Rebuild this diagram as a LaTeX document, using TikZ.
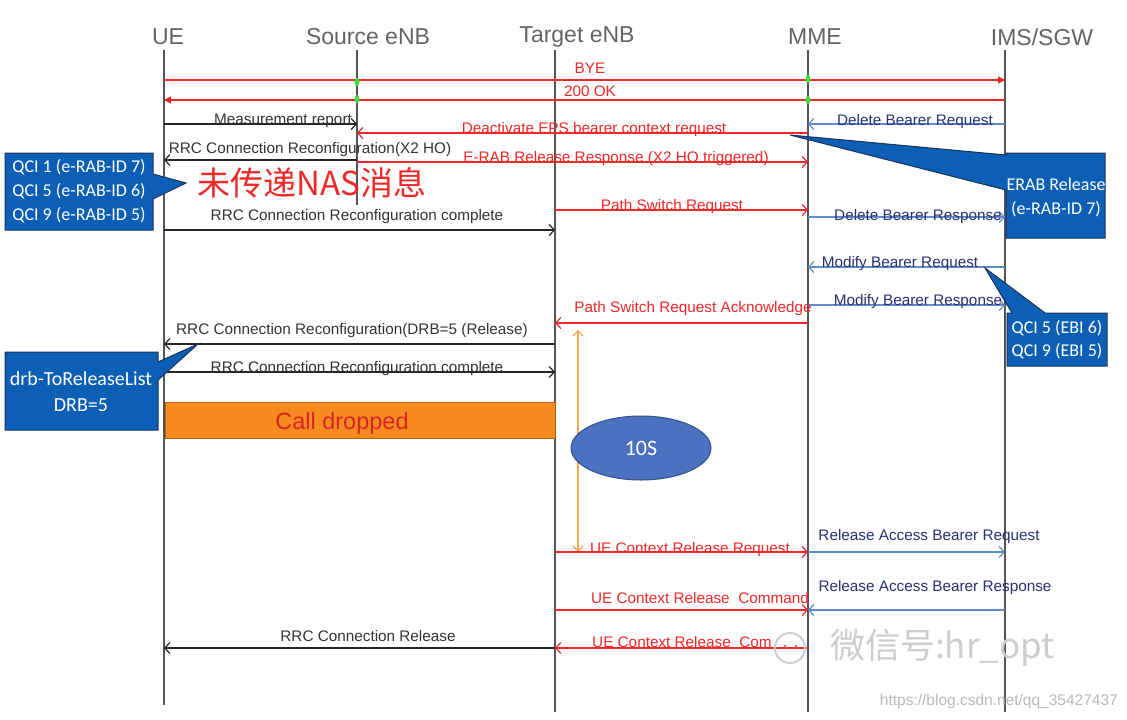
\documentclass[tikz,border=0pt]{standalone}
\usepackage{fontspec}
\setmainfont{Liberation Sans}
\newfontfamily\boxfont{Carlito}
\newfontfamily\cjk{Noto Sans CJK SC}
\usetikzlibrary{arrows.meta,shapes.geometric}
\definecolor{msgred}{RGB}{240,40,40}
\definecolor{lblue}{RGB}{95,140,205}
\definecolor{navy}{RGB}{40,50,115}
\definecolor{boxblue}{RGB}{12,95,180}
\definecolor{boxedge}{RGB}{25,50,90}
\definecolor{life}{RGB}{85,85,85}
\definecolor{hdrgray}{RGB}{100,100,100}
\definecolor{orangebar}{RGB}{246,139,31}
\definecolor{orangeline}{RGB}{245,170,80}
\definecolor{ellblue}{RGB}{74,114,192}
\definecolor{wm}{RGB}{205,205,205}
\definecolor{dotgreen}{RGB}{60,220,60}
\begin{document}
\begin{tikzpicture}[x=1pt,y=-1pt,
  lifeline/.style={draw=life,line width=1.4pt},
  hdr/.style={text=hdrgray,font=\fontsize{23}{23}\selectfont,inner sep=0pt},
  barb/.style={-{Straight Barb[length=5pt,width=11pt,line width=1.2pt]}},
  redmsg/.style={draw=msgred,line width=1.6pt,barb},
  blkmsg/.style={draw=black!85,line width=1.2pt,barb},
  bluemsg/.style={draw=lblue,line width=1.3pt,barb},
  trimsg/.style={draw=msgred,line width=1.6pt,-{Triangle[length=7pt,width=7pt]}},
  lbl/.style={font=\fontsize{15.3}{15.3}\selectfont,inner sep=0pt},
  redlbl/.style={lbl,text=msgred},
  blklbl/.style={lbl,text=black!80},
  bluelbl/.style={lbl,text=navy},
  callout/.style={fill=boxblue,draw=boxedge,line width=1pt},
  calltext/.style={text=white,align=center,inner sep=0pt},
  greendot/.style={fill=dotgreen}
]
\useasboundingbox (0,0) rectangle (1127,720);
\fill[white] (0,0) rectangle (1127,720);

% lifelines
\coordinate (ueT) at (164,50);  \coordinate (ueB) at (164,705);
\coordinate (srcT) at (357,50); \coordinate (srcB) at (357,205);
\coordinate (tgtT) at (555,50); \coordinate (tgtB) at (555,712);
\coordinate (mmeT) at (808,50); \coordinate (mmeB) at (808,712);
\coordinate (imsT) at (1005,50); \coordinate (imsB) at (1005,712);
\draw[lifeline] (ueT) -- (ueB);
\draw[lifeline] (srcT) -- (srcB);
\draw[lifeline] (tgtT) -- (tgtB);
\draw[lifeline] (mmeT) -- (mmeB);
\draw[lifeline] (imsT) -- (imsB);

\node[hdr] (hUE) at (168,37) {UE};
\node[hdr] (hSRC) at (368,37) {Source eNB};
\node[hdr] (hTGT) at (577,37) {Target eNB};
\node[hdr] (hMME) at (815,37) {MME};
\node[hdr] (hIMS) at (1042,37) {IMS/SGW};

% BYE / 200 OK
\draw[trimsg] (ueT |- 0,80) -- (imsT |- 0,80);
\node[redlbl] (lBYE) at (590,68) {BYE};
\draw[trimsg] (imsT |- 0,100) -- (ueT |- 0,100);
\node[redlbl] (l200) at (590,91) {200 OK};
\fill[greendot] (srcT |- 0,82) ellipse (2.5 and 4);
\fill[greendot] (srcT |- 0,99) ellipse (2.5 and 4);
\fill[greendot] (mmeT |- 0,79) ellipse (2.5 and 4);
\fill[greendot] (mmeT |- 0,100) ellipse (2.5 and 4);

% messages
\draw[blkmsg] (ueT |- 0,124) -- (srcT |- 0,124);
\node[blklbl] (l1) at (283,121) {Measurement report};
\draw[bluemsg] (imsT |- 0,124) -- (mmeT |- 0,124);
\node[bluelbl] (l2) at (915,122) {Delete Bearer Request};
\draw[redmsg] (mmeT |- 0,133) -- (srcT |- 0,133);
\node[redlbl] (l3) at (594,130) {Deactivate EPS bearer context request};
\draw[blkmsg] (srcT |- 0,160) -- (ueT |- 0,160);
\node[blklbl] (l4) at (310,150) {RRC Connection Reconfiguration(X2 HO)};
\draw[redmsg] (srcT |- 0,162) -- (mmeT |- 0,162);
\node[redlbl] (l5) at (616,159) {E-RAB Release Response (X2 HO triggered)};
\node[text=msgred,inner sep=0pt,font=\cjk\fontsize{33}{33}\selectfont] (nas) at (312,183) {未传递NAS消息};

\draw[redmsg] (tgtT |- 0,210) -- (mmeT |- 0,210);
\node[redlbl] (l6) at (672,207) {Path Switch Request};
\draw[bluemsg] (mmeT |- 0,217) -- (imsT |- 0,217);
\node[bluelbl] (l7) at (918,217) {Delete Bearer Response};
\draw[blkmsg] (ueT |- 0,230) -- (tgtT |- 0,230);
\node[blklbl] (l8) at (357,217) {RRC Connection Reconfiguration complete};

\draw[bluemsg] (imsT |- 0,267) -- (mmeT |- 0,267);
\node[bluelbl] (l9) at (900,264) {Modify Bearer Request};
\draw[bluemsg] (mmeT |- 0,305) -- (imsT |- 0,305);
\node[bluelbl] (l10) at (918,302) {Modify Bearer Response};
\draw[redmsg] (mmeT |- 0,323) -- (tgtT |- 0,323);
\node[redlbl] (l11) at (693,309) {Path Switch Request Acknowledge};
\draw[blkmsg] (tgtT |- 0,344) -- (ueT |- 0,344);
\node[blklbl] (l12) at (352,331) {RRC Connection Reconfiguration(DRB=5 (Release)};
\draw[blkmsg] (ueT |- 0,372) -- (tgtT |- 0,372);
\node[blklbl] (l13) at (357,369) {RRC Connection Reconfiguration complete};

% call dropped bar
\node[fill=orangebar,draw=orangebar!70!black,line width=0.8pt,minimum width=390pt,minimum height=36pt,inner sep=0pt,anchor=north west] (bar) at (165,402) {};
\node[text=msgred!90!black,inner sep=0pt,font=\fontsize{23.5}{23.5}\selectfont] (cd) at (342,423) {Call dropped};

% 10 s timer
\coordinate (tTop) at (578,330);
\coordinate (tBot) at (578,552);
\draw[draw=orangeline,line width=1.3pt,{Straight Barb[length=5pt,width=10pt]}-{Straight Barb[length=5pt,width=10pt]}] (tTop) -- (tBot);
\node[ellipse,fill=ellblue,draw=ellblue!70!black,line width=1pt,minimum width=140pt,minimum height=64pt,inner sep=0pt,text=white,font=\boxfont\fontsize{22}{22}\selectfont] (ten) at (641,448) {10S};

% release phase
\draw[redmsg] (tgtT |- 0,552) -- (mmeT |- 0,552);
\node[redlbl] (l14) at (690,550) {UE Context Release Request};
\draw[bluemsg] (mmeT |- 0,552) -- (imsT |- 0,552);
\node[bluelbl] (l15) at (929,537) {Release Access Bearer Request};
\draw[redmsg] (tgtT |- 0,610) -- (mmeT |- 0,610);
\node[redlbl] (l16) at (700,598) {UE Context Release\ \ Command};
\draw[bluemsg] (imsT |- 0,610) -- (mmeT |- 0,610);
\node[bluelbl] (l17) at (935,588) {Release Access Bearer Response};
\draw[redmsg] (mmeT |- 0,648) -- (tgtT |- 0,648);
\node[redlbl,anchor=west] (l18) at (592,642) {UE Context Release\ \ Com};
\draw[blkmsg] (tgtT |- 0,648) -- (ueT |- 0,648);
\node[blklbl] (l19) at (368,636) {RRC Connection Release};

% callouts
\draw[callout] (5,153) -- (153,153) -- (153,174) -- (186,183) -- (153,199) -- (153,230) -- (5,230) -- cycle;
\node[calltext,font=\boxfont\fontsize{18}{24}\selectfont] (c1) at (79,191) {QCI 1 (e-RAB-ID 7)\\QCI 5 (e-RAB-ID 6)\\QCI 9 (e-RAB-ID 5)};

\draw[callout] (5,352) -- (158,352) -- (158,362) -- (198,344) -- (158,380) -- (158,430) -- (5,430) -- cycle;
\node[calltext,font=\boxfont\fontsize{20}{26}\selectfont] (c2) at (81,392) {drb-ToReleaseList\\DRB=5};

\draw[callout] (1006,153) -- (1105,153) -- (1105,238) -- (1006,238) -- (1006,190) -- (790,135) -- (1006,155) -- cycle;
\node[calltext,font=\boxfont\fontsize{18}{24}\selectfont] (c3) at (1056,197) {ERAB Release\\(e-RAB-ID 7)};

\draw[callout] (1007,313) -- (1012,313) -- (985,268) -- (1045,313) -- (1107,313) -- (1107,366) -- (1007,366) -- cycle;
\node[calltext,font=\boxfont\fontsize{18}{23}\selectfont] (c4) at (1057,340) {QCI 5 (EBI 6)\\QCI 9 (EBI 5)};

% watermark
\draw[wm,line width=2pt] (790,648) circle (15);
\fill[wm!70!black] (785,646) circle (1.5);
\fill[wm!70!black] (796,646) circle (1.5);
\node[text=wm,inner sep=0pt,font=\cjk\fontsize{35}{35}\selectfont,anchor=west] (wmk) at (830,648) {微信号:hr\_opt};
\node[text=wm!90!black,inner sep=0pt,font=\fontsize{15.5}{15.5}\selectfont,anchor=east] (url) at (1118,701) {https://blog.csdn.net/qq\_35427437};
\end{tikzpicture}
\end{document}
